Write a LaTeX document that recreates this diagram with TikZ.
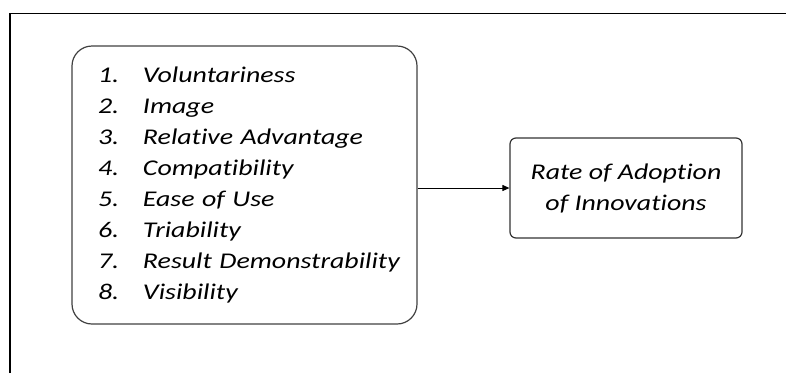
\documentclass[tikz,border=0pt]{standalone}
\usepackage{fontspec}
\setmainfont{Carlito}[FakeStretch=1.24, Ligatures=CommonOff]
\usetikzlibrary{arrows.meta}
\tikzstyle{factorbox} = [rectangle, draw=black!75, line width=1.2pt, rounded corners=20pt, minimum width=345pt, minimum height=278pt, text width=293pt, inner xsep=26pt, align=left, font=\fontsize{22.5pt}{30.9pt}\selectfont\itshape]
\tikzstyle{ratebox} = [rectangle, draw=black!80, line width=1.2pt, rounded corners=6pt, minimum width=232pt, minimum height=100pt, align=center, font=\fontsize{22.5pt}{31pt}\selectfont\itshape]
\tikzstyle{arrow} = [line width=1pt, -{Triangle[length=7pt, width=6pt]}]
\newcommand{\factor}[2]{\makebox[45pt][l]{#1}\mbox{#2}}

\begin{document}
\begin{tikzpicture}[x=1pt, y=1pt]
    \useasboundingbox (0,0) rectangle (786,-373);
    \draw [line width=1.5pt] (10,-373) -- (10,-13.5) -- (786,-13.5);
    \node [factorbox] at (244.5,-185) (factors) {\factor{1.}{Voluntariness}\\ \factor{2.}{Image}\\ \factor{3.}{Relative Advantage}\\ \factor{4.}{Compatibility}\\ \factor{5.}{Ease of Use}\\ \factor{6.}{Triability}\\ \factor{7.}{Result Demonstrability}\\ \factor{8.}{Visibility}};
    \node [ratebox] at (626,-188) (rate) {Rate of Adoption\\of Innovations};
    \draw [arrow] (factors.east |- rate) -- (rate);
\end{tikzpicture}
\end{document}
